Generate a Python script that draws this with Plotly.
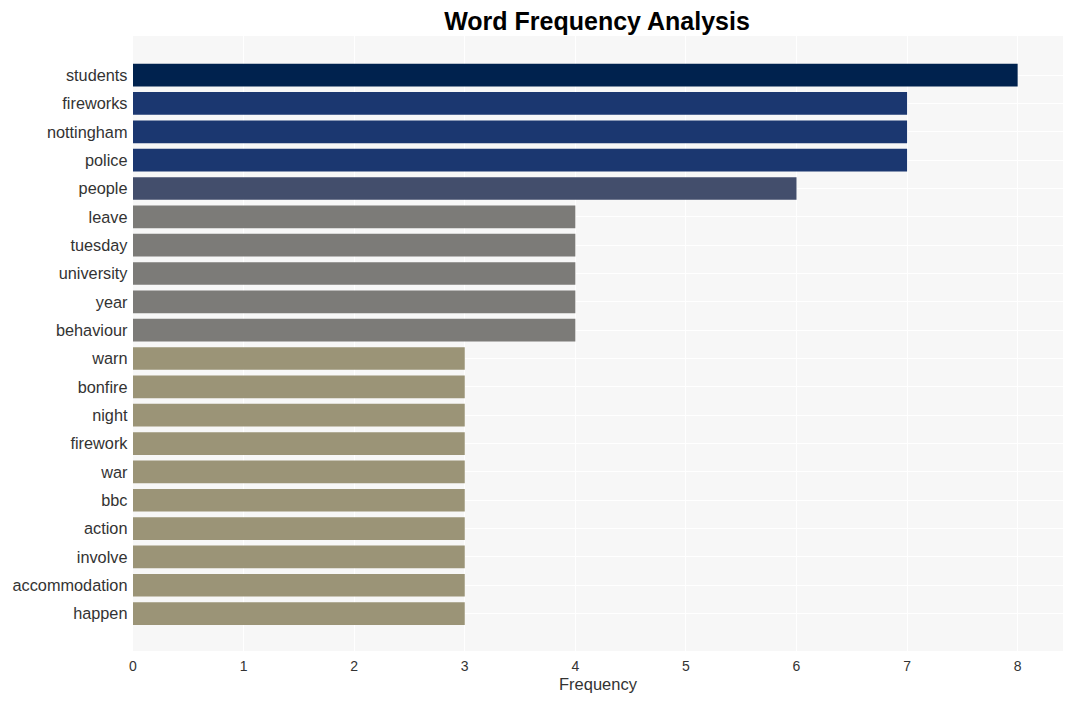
import plotly.graph_objects as go

words = ["students", "fireworks", "nottingham", "police", "people", "leave", "tuesday",
         "university", "year", "behaviour", "warn", "bonfire", "night", "firework", "war",
         "bbc", "action", "involve", "accommodation", "happen"]
counts = [8, 7, 7, 7, 6, 4, 4, 4, 4, 4, 3, 3, 3, 3, 3, 3, 3, 3, 3, 3]
color_by_count = {8: "#00224e", 7: "#1b3770", 6: "#434e6c", 4: "#7c7b78", 3: "#9b9477"}
colors = [color_by_count[c] for c in counts]

fig = go.Figure(go.Bar(
    x=counts, y=words, orientation="h",
    marker=dict(color=colors, line=dict(width=0)),
    width=0.8,
))

W, H = 1056, 685
fig.update_layout(
    width=W, height=H,
    margin=dict(l=125, r=1, t=28, b=42),
    paper_bgcolor="white",
    plot_bgcolor="#f7f7f7",
    title=dict(text="<b>Word Frequency Analysis</b>", x=589 / W, xanchor="center",
               y=1 - 13 / H, yanchor="middle",
               font=dict(family="Liberation Sans, Arial, sans-serif", size=25, color="#000000")),
    font=dict(family="Liberation Sans, Arial, sans-serif", color="#333333"),
    showlegend=False,
    bargap=0.2,
)
fig.update_xaxes(
    range=[0, 8.41], tickmode="linear", dtick=1, showgrid=True, gridcolor="white", gridwidth=1,
    zeroline=False, tickfont=dict(size=14, color="#333333"),
    title=dict(text="Frequency", font=dict(size=16.5, color="#333333"), standoff=6),
    ticks="outside", ticklen=2, tickcolor="rgba(0,0,0,0)",
)
fig.update_yaxes(
    categoryorder="array", categoryarray=words, range=[len(words) - 1 + 1.32, -1.38],
    showgrid=True, gridcolor="white", gridwidth=1, tickfont=dict(size=16.3, color="#333333"),
    ticks="", ticklen=0, ticksuffix=" ",
)

fig.write_html("out.html")
